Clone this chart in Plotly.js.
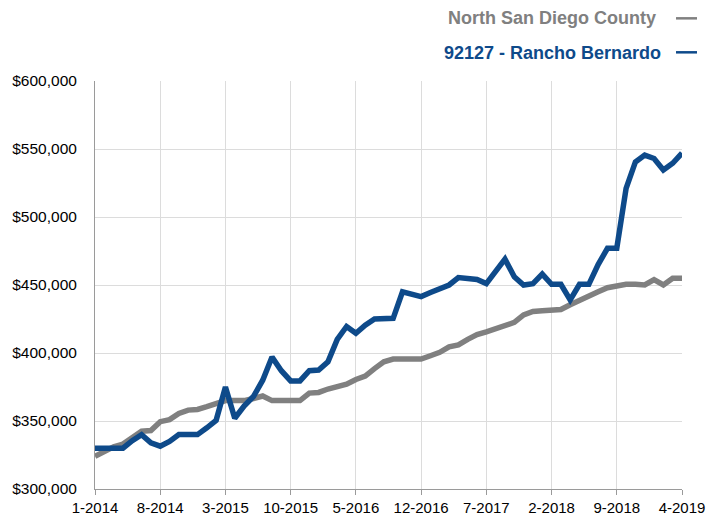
<!DOCTYPE html>
<html>
<head>
<meta charset="utf-8">
<script src="https://cdn.plot.ly/plotly-3.0.1.min.js"></script>
<style>
  html, body { margin: 0; padding: 0; background: #ffffff; }
  #chart { width: 720px; height: 518px; }
</style>
</head>
<body>
<div id="chart"></div>
<script>
// Month labels, Jan 2014 .. Apr 2019
const months = [
  "1-2014","2-2014","3-2014","4-2014","5-2014","6-2014","7-2014","8-2014","9-2014","10-2014","11-2014","12-2014",
  "1-2015","2-2015","3-2015","4-2015","5-2015","6-2015","7-2015","8-2015","9-2015","10-2015","11-2015","12-2015",
  "1-2016","2-2016","3-2016","4-2016","5-2016","6-2016","7-2016","8-2016","9-2016","10-2016","11-2016","12-2016",
  "1-2017","2-2017","3-2017","4-2017","5-2017","6-2017","7-2017","8-2017","9-2017","10-2017","11-2017","12-2017",
  "1-2018","2-2018","3-2018","4-2018","5-2018","6-2018","7-2018","8-2018","9-2018","10-2018","11-2018","12-2018",
  "1-2019","2-2019","3-2019","4-2019"
];

// North San Diego County median price
const northCounty = [
  324000, 328000, 331000, 333000, 338000, 342500, 343000, 349500, 351000, 355500, 358000, 358500,
  360500, 363000, 365000, 365000, 365000, 366500, 368400, 365000, 365000, 365000, 365000, 370500,
  371000, 373500, 375000, 377000, 380500, 383000, 388500, 393500, 395500, 395500, 395500, 395500,
  398000, 400500, 404500, 406000, 410000, 413500, 415500, 418000, 420500, 422500, 428000, 430500,
  431000, 431000, 432000, 435500, 439000, 441500, 445000, 448000, 449500, 450500, 450500, 450000,
  454000, 450000, 455000, 455000
];

// 92127 - Rancho Bernardo median price
const ranchoBernardo = [
  330000, 330000, 330000, 330000, 335500, 340000, 334000, 331500, 335000, 340000, 340000, 340000,
  345000, 350500, 375000, 352000, 361000, 368000, 380000, 397000, 387000, 379500, 379500, 387000,
  387500, 393500, 410000, 419500, 414500, 420500, 425000, 425500, 425500, 445000, 443000, 441500,
  444500, 447500, 450000, 455500, 454500, 454000, 451000, 460000, 469000, 456000, 450000, 451000,
  458000, 450500, 450500, 439000, 450500, 450500, 465000, 477000, 477000, 521000, 540500, 545500,
  543000, 534500, 539500, 547000
];

const xTicks = ["1-2014","8-2014","3-2015","10-2015","5-2016","12-2016","7-2017","2-2018","9-2018","4-2019"];
const yTicks = [300000, 350000, 400000, 450000, 500000, 550000, 600000];
const yTickText = ["$300,000","$350,000","$400,000","$450,000","$500,000","$550,000","$600,000"];

const seriesNames = ["North San Diego County", "92127 - Rancho Bernardo"];
const seriesColors = ["#808080", "#0e4a8a"];

const baseFont = "Liberation Sans, Arial, Helvetica, sans-serif";

const traces = [
  {
    x: months, y: northCounty, type: "scatter", mode: "lines",
    name: seriesNames[0],
    line: { color: seriesColors[0], width: 5.5, shape: "linear" },
    hoverinfo: "skip"
  },
  {
    x: months, y: ranchoBernardo, type: "scatter", mode: "lines",
    name: seriesNames[1],
    line: { color: seriesColors[1], width: 5.5, shape: "linear" },
    hoverinfo: "skip"
  }
];

const layout = {
  width: 720, height: 518,
  margin: { l: 95, r: 38, t: 81, b: 29, pad: 0 },
  paper_bgcolor: "#ffffff",
  plot_bgcolor: "#ffffff",
  showlegend: false,
  font: { family: baseFont, size: 15, color: "#000000" },
  xaxis: {
    type: "category",
    range: [0, months.length - 1],
    tickmode: "array",
    tickvals: xTicks,
    ticktext: xTicks,
    showgrid: true,
    gridcolor: "#dcdcdc",
    gridwidth: 1,
    showline: true,
    linecolor: "#9a9a9a",
    linewidth: 1,
    ticks: "outside",
    ticklen: 5,
    tickcolor: "#9a9a9a",
    tickfont: { family: baseFont, size: 15, color: "#000000" },
    zeroline: false,
    fixedrange: true
  },
  yaxis: {
    range: [300000, 600000],
    tickmode: "array",
    tickvals: yTicks,
    ticktext: yTickText,
    showgrid: true,
    gridcolor: "#dcdcdc",
    gridwidth: 1,
    showline: true,
    linecolor: "#9a9a9a",
    linewidth: 1,
    ticks: "",
    ticklabelstandoff: 14,
    tickfont: { family: baseFont, size: 15.5, color: "#000000" },
    zeroline: false,
    fixedrange: true
  },
  annotations: [
    {
      xref: "paper", yref: "paper",
      x: 0.9591, y: 1.1535, xanchor: "right", yanchor: "middle",
      text: "<b>" + seriesNames[0] + "</b>",
      showarrow: false,
      font: { family: baseFont, size: 18, color: seriesColors[0] }
    },
    {
      xref: "paper", yref: "paper",
      x: 0.9676, y: 1.0675, xanchor: "right", yanchor: "middle",
      text: "<b>" + seriesNames[1] + "</b>",
      showarrow: false,
      font: { family: baseFont, size: 18, color: seriesColors[1] }
    }
  ],
  shapes: [
    {
      type: "line", xref: "paper", yref: "paper",
      x0: 0.9898, x1: 1.0256, y0: 1.1536, y1: 1.1536,
      line: { color: seriesColors[0], width: 2.5 }
    },
    {
      type: "line", xref: "paper", yref: "paper",
      x0: 0.9898, x1: 1.0256, y0: 1.0703, y1: 1.0703,
      line: { color: seriesColors[1], width: 2.5 }
    }
  ]
};

Plotly.newPlot("chart", traces, layout, { displayModeBar: false, staticPlot: true });
</script>
</body>
</html>
